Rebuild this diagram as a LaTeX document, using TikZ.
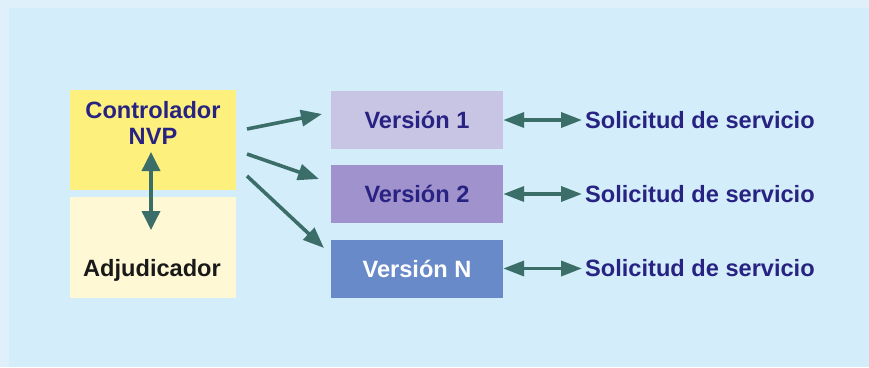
\documentclass[tikz,border=0pt]{standalone}
\usepackage{fontspec}
\setmainfont{Liberation Sans}
\usetikzlibrary{arrows.meta}
\definecolor{framecol}{RGB}{223,240,251}
\definecolor{panelcol}{RGB}{211,238,250}
\definecolor{ctrlcol}{RGB}{253,240,125}
\definecolor{adjcol}{RGB}{254,249,212}
\definecolor{verAcol}{RGB}{200,196,228}
\definecolor{verBcol}{RGB}{160,146,204}
\definecolor{verCcol}{RGB}{104,138,200}
\definecolor{arrowcol}{RGB}{60,110,105}
\definecolor{textcol}{RGB}{40,35,130}
\begin{document}
\begin{tikzpicture}[
        x=1pt, y=-1pt,
        every node/.style={
          font = \fontsize{23.6}{26}\selectfont\bfseries,
        },
        block/.style={
          draw = none,
          minimum width = 166pt,
          inner sep = 0pt,
        },
        version/.style={
          draw = none,
          minimum width = 172pt,
          minimum height = 58pt,
          inner sep = 0pt,
          text = textcol,
        },
        request/.style={
          anchor = west,
          inner sep = 0pt,
          text = textcol,
        },
        flow/.style={
          arrowcol,
          line width = 3.6pt,
          -{Triangle[length=21pt,width=16pt]},
        },
        both/.style={
          arrowcol,
          line width = 3.6pt,
          {Triangle[length=21pt,width=15pt]}-{Triangle[length=21pt,width=15pt]},
        },
        ]
        % background
        \useasboundingbox (0,0) rectangle (869,367);
        \fill [framecol] (0,0) rectangle (869,367);
        \fill [panelcol] (9,8) rectangle (869,367);
        % controller and adjudicator
        \node [block, fill=ctrlcol, minimum height=100pt] (ctrl) at (153,140) {};
        \node [block, fill=adjcol, minimum height=101pt] (adj) at (153,247.5) {};
        \node [text=textcol, align=center] (ctrl-text) at (153,123) {Controlador\\NVP};
        \node [text=black!90] (adj-text) at (152,270) {Adjudicador};
        \coordinate (link-top) at (151,152);
        \coordinate (link-bot) at (151,230);
        \draw [both, {Triangle[length=19pt,width=18pt]}-{Triangle[length=19pt,width=18pt]}] (link-top) -- (link-bot);
        % versions
        \node [version, fill=verAcol] (ver1) at (417,120) {Versión 1};
        \node [version, fill=verBcol] (ver2) at (417,194) {Versión 2};
        \node [version, fill=verCcol, text=white] (verN) at (417,268.5) {Versión N};
        \coordinate (out1) at (247,129);
        \coordinate (out2) at (247,154);
        \coordinate (out3) at (247,176);
        \draw [flow] (out1) -- (322,114);
        \draw [flow] (out2) -- (319,179);
        \draw [flow] (out3) -- (324,248);
        % service requests
        \node [request] (sol1) at (585,120) {Solicitud de servicio};
        \node [request] (sol2) at (585,194) {Solicitud de servicio};
        \node [request] (solN) at (585,268.5) {Solicitud de servicio};
        \draw [both, shorten <=0pt, shorten >=3pt] (ver1.east) -- (sol1.west);
        \draw [both, shorten <=0pt, shorten >=3pt] (ver2.east) -- (sol2.west);
        \draw [both, shorten <=0pt, shorten >=3pt] (verN.east) -- (solN.west);
\end{tikzpicture}
\end{document}
